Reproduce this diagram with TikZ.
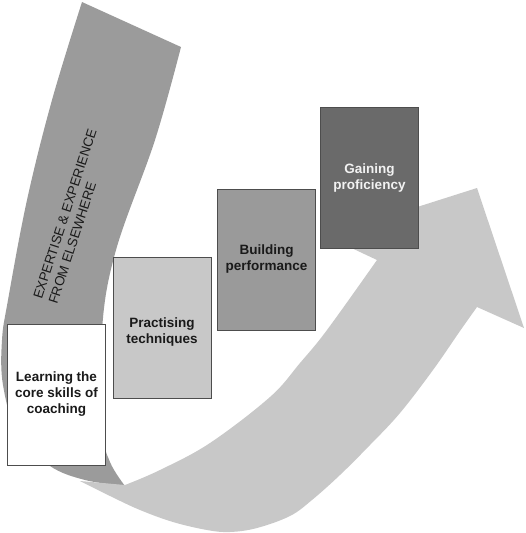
\documentclass[tikz,border=0pt]{standalone}
\usepackage{fontspec}
\setmainfont{Liberation Sans}
\definecolor{bandgray}{HTML}{9B9B9B}
\definecolor{arrowgray}{HTML}{C8C8C8}
\definecolor{stepone}{HTML}{FFFFFF}
\definecolor{steptwo}{HTML}{C8C8C8}
\definecolor{stepthree}{HTML}{9A9A9A}
\definecolor{stepfour}{HTML}{6A6A6A}
\definecolor{edgegray}{HTML}{4D4D4D}
\definecolor{inkdark}{HTML}{1A1A1A}
\definecolor{inklight}{HTML}{F2F2F2}
\tikzset{
  stagebox/.style={draw=edgegray, line width=0.9pt, minimum width=98pt, minimum height=141pt,
    inner sep=0pt, align=center, text=inkdark,
    font=\bfseries\fontsize{13.5}{16}\selectfont},
  stagetext/.style={align=center, text=inkdark, inner sep=0pt,
    font=\bfseries\fontsize{13.5}{16}\selectfont},
  bandlabel/.style={align=left, text=inkdark, inner sep=0pt,
    font=\fontsize{13.4}{16}\selectfont},
}
\begin{document}
\begin{tikzpicture}[x=1pt,y=-1pt]
\useasboundingbox (0,0) rectangle (525,533);
% dark curved band
\fill[bandgray] (82,2) -- (181,47)
  -- plot[smooth, tension=0.6] coordinates {(181,47) (155,140) (116,250) (102,330) (103,430) (110,462) (125,486)}
  -- plot[smooth, tension=0.6] coordinates {(125,486) (85,480) (50,466) (18,435) (3,385) (2,340) (8,300) (27,200) (52,100) (82,2)}
  -- cycle;
\node[bandlabel, rotate=72] (band) at (72.6,216.5) {EXPERTISE \& EXPERIENCE\\FROM ELSEWHERE};
% light curved arrow
\fill[arrowgray] (80,481)
  -- plot[smooth, tension=0.6] coordinates {(80,481) (110,496) (140,510) (173,522) (207,530) (230,532) (257,528) (290,516) (312,500) (340,475) (370,445) (400,413) (433,370) (460,331) (477,307)}
  -- (524,328) -- (477,188) -- (326,236) -- (377,260)
  -- plot[smooth, tension=0.6] coordinates {(377,260) (327,330) (300,363) (270,397) (210,443) (160,470) (125,485)}
  -- cycle;
% stages
\node[stagebox, fill=stepone] (learn) at (56.5,394.5) {Learning the\\core skills of\\coaching};
\node[stagebox, fill=steptwo] (practise) at (162,327.5) {};
\node[stagetext] (practisetext) at (162,332) {Practising\\techniques};
\node[stagebox, fill=stepthree] (build) at (266.5,259.5) {Building\\performance};
\node[stagebox, fill=stepfour, text=inklight] (gain) at (369.5,178) {Gaining\\proficiency};
\end{tikzpicture}
\end{document}
